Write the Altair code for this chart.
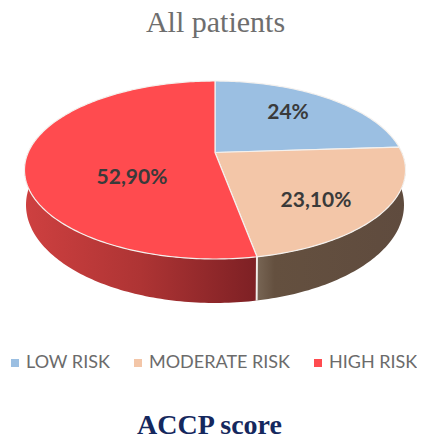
import math
import altair as alt

categories = ["LOW RISK", "MODERATE RISK", "HIGH RISK"]
shares = [24.0, 23.1, 52.9]
value_labels = ["24%", "23,10%", "52,90%"]
colors = ["#9BBFE2", "#F3C6A8", "#FF4B4F"]

SCALE = 186.8        # px per pie radius
TILT = 0.458         # vertical squash of the disc
PERSP = 0.1966       # perspective strength
CX, CY = 215.0, 152.5  # page position of the pie's apex
PAD_TOP = 48
BOTTOM_DEPTH = 33.2 / SCALE
BOTTOM_SHRINK = 0.992
BOTTOM_TILT = 94.2 / SCALE


def project(deg, depth=0.0, shrink=1.0, tilt=TILT):
    t = math.radians(deg)
    u, v = math.sin(t), math.cos(t)
    d = 1 + PERSP * v
    return [shrink * u / d, -tilt * v / d + depth]


def arc(a0, a1, **kw):
    n = max(2, int(abs(a1 - a0)))
    return [project(a0 + (a1 - a0) * i / n, **kw) for i in range(n + 1)]


def feature(ring, category):
    closed = ring + [ring[0]]
    return {"type": "Feature", "properties": {"category": category},
            "geometry": {"type": "Polygon", "coordinates": [closed]}}


def side(a0, a1, category):
    top = arc(a0, a1)
    bottom = arc(a1, a0, depth=BOTTOM_DEPTH, shrink=BOTTOM_SHRINK, tilt=BOTTOM_TILT)
    return feature(top + bottom, category)


edges = [0.0]
for s in shares:
    edges.append(edges[-1] + s * 3.6)

wedges = [feature([[0.0, 0.0]] + arc(edges[i], edges[i + 1]), c) for i, c in enumerate(categories)]


def geo(features):
    return alt.Data(values={"type": "FeatureCollection", "features": features},
                    format=alt.DataFormat(property="features", type="json"))


proj = dict(type="identity", scale=SCALE, translate=[CX - 8, CY - PAD_TOP])


def gradient(stops):
    return alt.Gradient(gradient="linear", x1=0, x2=1, y1=0, y2=0,
                        stops=[alt.GradientStop(offset=o, color=c) for o, c in stops])


red_side = alt.Chart(geo([side(edges[2], 282, categories[2])])).mark_geoshape(
    fill=gradient([(0, "#CE4040"), (0.5, "#AE3434"), (1, "#7D2024")])
).project(**proj)
brown_side = alt.Chart(geo([side(edges[1], edges[2], categories[1])])).mark_geoshape(
    fill=gradient([(0, "#786655"), (0.12, "#64503F"), (1, "#5F4B3E")])
).project(**proj)
divider = alt.Chart(geo([side(edges[2] - 0.25, edges[2] + 0.25, categories[1])])).mark_geoshape(
    fill="#F2EEEA"
).project(**proj)
top = alt.Chart(geo(wedges)).mark_geoshape(stroke="#F4F1EE", strokeWidth=1.2).encode(
    color=alt.Color(
        "properties.category:N",
        scale=alt.Scale(domain=categories, range=colors),
        sort=categories,
        legend=alt.Legend(
            title=None, orient="none", legendX=-2, legendY=306, direction="horizontal",
            columns=3, symbolType="square", symbolSize=64, symbolStrokeWidth=0,
            labelFont="Lato", labelFontSize=18, labelColor="#6B6B6B", labelLimit=220,
            columnPadding=18, labelOffset=2, gridAlign="none",
        ),
    )
).project(**proj)

layers = [red_side, brown_side, divider, top]
label_pos = [(288, 113), (316, 201), (132, 178)]
for lab, (x, y) in zip(value_labels, label_pos):
    layers.append(
        alt.Chart(alt.Data(values=[{"t": lab}])).mark_text(
            font="Lato", fontWeight="bold", fontSize=21, color="#3A3A3A", align="center", baseline="middle"
        ).encode(text="t:N", x=alt.value(x - 8), y=alt.value(y - PAD_TOP))
    )
layers.append(
    alt.Chart(alt.Data(values=[{"t": "ACCP score"}])).mark_text(
        font="Liberation Serif", fontWeight="bold", fontSize=28, color="#15285E", align="center", baseline="middle"
    ).encode(text="t:N", x=alt.value(209.5 - 8), y=alt.value(426 - PAD_TOP))
)

chart = alt.layer(*layers).properties(
    width=409, height=390,
    padding={"left": 0, "top": 40, "right": 0, "bottom": 0},
    autosize=alt.AutoSizeParams(type="none"),
    title=alt.TitleParams("All patients", font="Liberation Serif", fontSize=30, fontWeight="normal",
                          color="#6E6E6E", anchor="middle", offset=10, dx=3),
).configure_view(stroke=None)

chart.save("out.html", embed_options={"renderer": "svg", "actions": False})
